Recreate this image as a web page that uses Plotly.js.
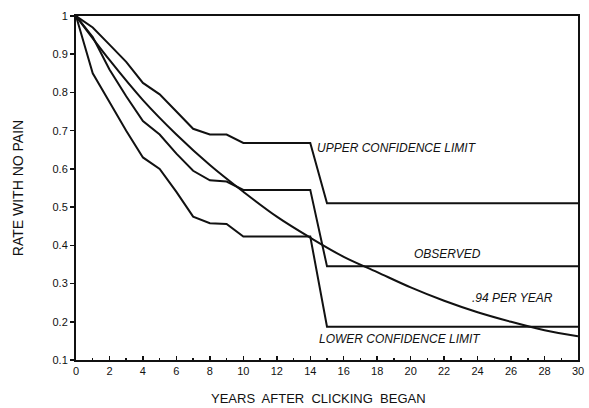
<!DOCTYPE html>
<html>
<head>
<meta charset="utf-8">
<script src="https://cdn.plot.ly/plotly-3.0.1.min.js"></script>
<style>
  html, body { margin: 0; padding: 0; background: #fff; }
  #chart { width: 589px; height: 408px; }
</style>
</head>
<body>
<div id="chart"></div>
<script>
// Years (x values)
var yearsLimits = [0, 1, 2, 3, 4, 5, 6, 7, 8, 9, 10, 14, 15, 30];
// Upper confidence limit
var upperLimit = [1, 0.97, 0.925, 0.88, 0.825, 0.795, 0.75, 0.705, 0.69, 0.69, 0.668, 0.668, 0.51, 0.51];
// Observed rate
var observed = [1, 0.945, 0.86, 0.79, 0.725, 0.69, 0.64, 0.595, 0.57, 0.567, 0.545, 0.545, 0.345, 0.345];
// Lower confidence limit
var lowerLimit = [1, 0.85, 0.775, 0.70, 0.63, 0.60, 0.54, 0.475, 0.458, 0.456, 0.423, 0.423, 0.187, 0.187];
// Fitted ".94 per year" curve
var yearsFit = [0, 2, 4, 6, 8, 10, 12, 14, 16, 18, 20, 22, 24, 26, 28, 30];
var fitted = [1, 0.885, 0.78, 0.69, 0.61, 0.54, 0.475, 0.42, 0.37, 0.33, 0.29, 0.255, 0.225, 0.2, 0.178, 0.162];

// Labels
var labelUpper = "UPPER CONFIDENCE LIMIT";
var labelObserved = "OBSERVED";
var labelFit = ".94 PER YEAR";
var labelLower = "LOWER CONFIDENCE LIMIT";
var xTitle = "YEARS  AFTER  CLICKING  BEGAN";
var yTitle = "RATE WITH NO PAIN";

var lineStyle = {color: '#111', width: 2};

var traces = [
  {x: yearsLimits, y: upperLimit, mode: 'lines', line: lineStyle, hoverinfo: 'skip'},
  {x: yearsLimits, y: observed, mode: 'lines', line: lineStyle, hoverinfo: 'skip'},
  {x: yearsLimits, y: lowerLimit, mode: 'lines', line: lineStyle, hoverinfo: 'skip'},
  {x: yearsFit, y: fitted, mode: 'lines', line: {color: '#111', width: 2, shape: 'spline'}, hoverinfo: 'skip'}
];

var annFont = {family: 'Liberation Sans, Arial, sans-serif', size: 12, color: '#111'};
function ann(text, x, y, xanchor) {
  return {text: '<i>' + text + '</i>', x: x, y: y, xref: 'x', yref: 'y',
          showarrow: false, xanchor: xanchor, yanchor: 'middle', font: annFont};
}

var annotations = [
  ann(labelUpper, 14.3, 0.655, 'left'),
  ann(labelObserved, 22.2, 0.378, 'center'),
  ann(labelFit, 26.1, 0.263, 'center'),
  ann(labelLower, 14.4, 0.156, 'left'),
  {text: xTitle, xref: 'paper', yref: 'paper', x: 0.484, y: 0, yshift: -38,
   xanchor: 'center', yanchor: 'middle', showarrow: false,
   font: {family: 'Liberation Sans, Arial, sans-serif', size: 13, color: '#111'}}
];

var layout = {
  width: 589, height: 408,
  margin: {l: 76, r: 11, t: 16, b: 48},
  paper_bgcolor: '#fff', plot_bgcolor: '#fff',
  showlegend: false,
  font: {family: 'Liberation Sans, Arial, sans-serif', color: '#111'},
  xaxis: {
    range: [0, 30], dtick: 2, tick0: 0,
    ticks: 'inside', ticklen: 4, tickwidth: 1.5, tickcolor: '#111',
    minor: {dtick: 1, ticks: 'inside', ticklen: 2, tickwidth: 1.5, tickcolor: '#111', showgrid: false},
    showline: true, linewidth: 2, linecolor: '#111', mirror: true,
    showgrid: false, zeroline: false,
    tickfont: {size: 11, color: '#111'}
  },
  yaxis: {
    range: [0.1, 1], dtick: 0.1, tick0: 0.1,
    ticks: 'outside', ticklen: 4, tickwidth: 1.5, tickcolor: '#111',
    showline: true, linewidth: 2, linecolor: '#111', mirror: true,
    showgrid: false, zeroline: false,
    tickfont: {size: 11, color: '#111'},
    title: {text: yTitle, font: {size: 14, color: '#111'}, standoff: 26}
  },
  annotations: annotations
};

Plotly.newPlot('chart', traces, layout, {staticPlot: true, displayModeBar: false});
</script>
</body>
</html>
